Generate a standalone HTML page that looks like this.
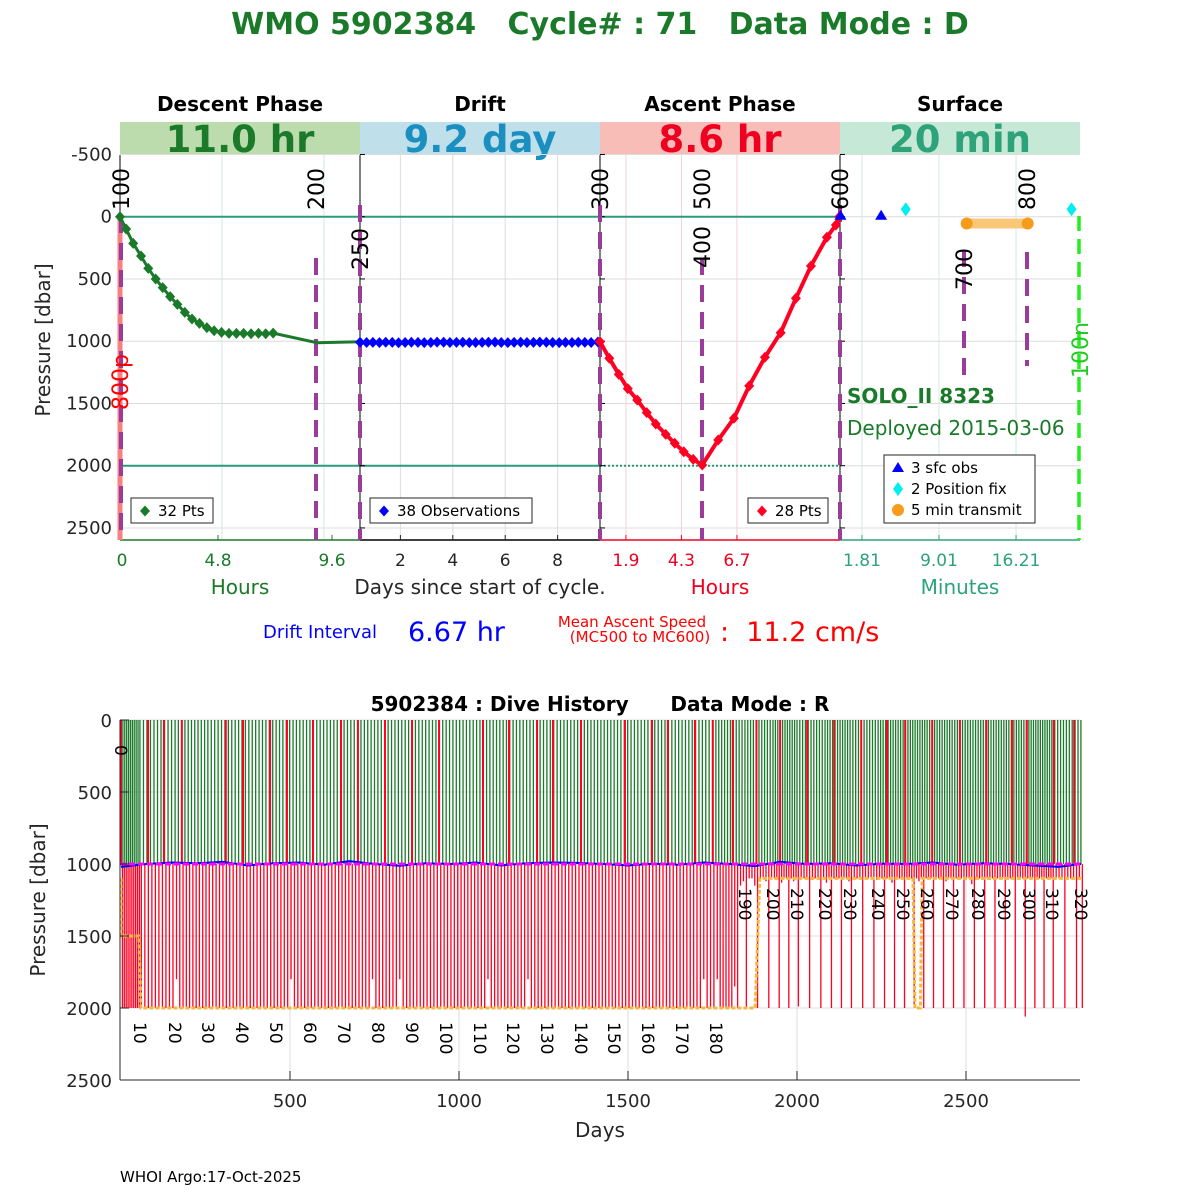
<!DOCTYPE html>
<html><head><meta charset="utf-8"><style>
html,body{margin:0;padding:0;background:#fff;}
svg{display:block;font-family:"DejaVu Sans","Liberation Sans",sans-serif;}
</style></head><body>
<svg id="c" width="1200" height="1200" viewBox="0 0 1200 1200"></svg>
<script>
// ---------- TOP PANEL DATA ----------
const descentHours=[0,0.29,0.62,0.99,1.33,1.68,2.01,2.36,2.70,3.05,3.39,3.74,4.09,4.43,4.78,5.13,5.48,5.82,6.17,6.52,6.86,7.21,9.28,11.3];
const descentPres=[0,99,214,316,415,500,570,642,704,768,822,857,891,916,929,937,937,937,940,937,940,935,1012,1004];
const driftDays=[0.46,0.71,0.95,1.20,1.44,1.69,1.93,2.18,2.42,2.67,2.91,3.16,3.40,3.65,3.89,4.14,4.38,4.63,4.87,5.12,5.36,5.61,5.85,6.10,6.34,6.59,6.83,7.08,7.32,7.57,7.81,8.06,8.30,8.55,8.79,9.04,9.28,9.54];
const driftPres=[1008,1010,1009,1011,1008,1009,1012,1010,1008,1009,1011,1010,1007,1008,1010,1009,1008,1011,1010,1009,1008,1007,1010,1011,1009,1008,1010,1009,1007,1008,1010,1011,1009,1010,1008,1009,1010,1006];
const ascentHours=[0.78,1.18,1.59,1.98,2.39,2.80,3.19,3.62,4.01,4.40,4.81,5.20,5.89,6.57,7.23,7.91,8.59,9.25,9.90,10.59,10.98,11.13];
const ascentPres=[1004,1137,1266,1381,1472,1574,1665,1748,1820,1888,1949,1994,1794,1619,1359,1129,932,655,396,165,67,0];
const sfcObsMin=[-0.2,3.6]; const sfcObsPres=[0,0];
const fixMin=[5.9,21.4]; const fixPres=[-60,-60];
const xmitMin=[11.6,17.3]; const xmitPres=[55,55];
const pTicks=[-500,0,500,1000,1500,2000,2500];
const descTicks=[0,4.8,9.6]; const driftTicks=[2,4,6,8]; const ascTicks=[1.9,4.3,6.7]; const sfcTicks=[1.81,9.01,16.21];
// ---------- BOTTOM PANEL DATA ----------
const labelCycles=[0,10,20,30,40,50,60,70,80,90,100,110,120,130,140,150,160,170,180,190,200,210,220,230,240,250,260,270,280,290,300,310,320];
const labelDays=[0,56,160,257,358,459,559,660,760,861,962,1062,1160,1260,1361,1459,1559,1660,1760,1846,1929,2000,2083,2157,2240,2314,2385,2459,2536,2612,2686,2754,2840];
const profDepth=[
2000,2000,2000,2000,2000,2000,2000,2000,2000,2000,2000,2000,2000,2000,2000,2000,2000,2000,2000,2000,
1800,2000,2000,2000,2000,2000,2000,2000,2000,2000,2000,2000,2000,2000,2000,2000,2000,2000,2000,2000,
2000,2000,2000,2000,2000,2000,2000,2000,2000,2000,2000,2000,2000,2000,1800,2000,2000,2000,2000,2000,
2000,2000,2000,2000,2000,2000,2000,2000,2000,2000,2000,2000,2000,2000,2000,2000,2000,2000,1800,2000,
2000,2000,2000,2000,2000,2000,1800,2000,2000,2000,2000,2000,2000,2000,2000,2000,2000,2000,2000,2000,
2000,2000,2000,2000,2000,2000,2000,2000,2000,2000,2000,2000,1800,2000,2000,2000,2000,2000,2000,2000,
2000,2000,2000,2000,1800,2000,2000,2000,2000,2000,2000,2000,2000,2000,2000,2000,2000,2000,2000,2000,
2000,2000,2000,2000,2000,2000,2000,2000,2000,2000,2000,2000,2000,2000,2000,2000,2000,2000,2000,2000,
2000,2000,2000,2000,2000,2000,2000,2000,2000,2000,2000,2000,2000,2000,2000,2000,1800,2000,2000,2000,
1800,2000,2000,2000,2000,2000,1850,2000,1150,1120,2000,1100,1100,1150,2000,1100,1100,1120,2000,1100,
1100,1100,2000,1130,1100,1100,2000,1100,1120,1100,1990,1100,1100,1100,2000,1110,1100,1100,2000,1100,
1130,1100,2000,1100,1100,1100,2000,1100,1100,1120,2000,1100,1100,1100,2000,1100,1100,1100,2000,1110,
1100,1100,2000,1100,1100,1130,2000,1100,1100,1100,2000,1100,1100,1100,2000,1100,1120,1100,2000,1100,
1100,1100,2000,1100,1100,1100,2000,1120,1100,1100,2000,1100,1100,1100,2000,1100,1100,1140,2000,1100,
1100,1100,2000,1100,1110,1100,2000,1100,1100,1100,2000,1100,1100,1100,2000,1100,1100,1100,2060,1100,
1100,1100,2000,1100,1100,1100,2000,1100,1100,1100,2000,1100,1100,1100,2000,1100,1100,1100,2000,1100,
2000];
const fullRedDays=[0,80,127,180,310,361,441,491,568,651,701,781,861,941,1071,1148,1231,1278,1361,1491,1571,1618,1698,1751,1810,1880,1950,2030,2110,2190,2266,2320,2400,2482,2560,2636,2680,2760,2820];
const histDriftDays=[0,75,150,225,300,375,450,525,600,675,750,825,900,975,1050,1125,1200,1275,1350,1425,1500,1575,1650,1725,1800,1875,1950,2025,2100,2175,2250,2325,2400,2475,2550,2625,2700,2775,2840];
const histDriftPres=[1020,1000,990,995,985,1010,995,990,1005,980,1000,1012,995,1000,990,1010,995,990,992,1000,1010,998,1005,990,1000,1015,985,1000,995,1010,998,1000,990,1005,995,1000,1010,1020,1000];
const orangeDays=[0,0,53,59,1876,1890,2343,2349,2365,2370,2840];
const orangePres=[1100,1500,1500,2000,2000,1100,1100,2000,2000,1100,1100];
const dayTicks=[500,1000,1500,2000,2500]; const histPTicks=[0,500,1000,1500,2000,2500];

// ---------- helpers ----------
const NS="http://www.w3.org/2000/svg"; const svg=document.getElementById('c');
function mk(tag,attrs,parent){const e=document.createElementNS(NS,tag);for(const k in attrs)e.setAttribute(k,attrs[k]);(parent||svg).appendChild(e);return e;}
function txt(s,attrs,parent){const e=mk('text',attrs,parent);e.textContent=s;return e;}
const SP='\u00a0';
const yT=p=>216.7+0.1245*p;
const xDesc=h=>120+21.24*h;
const xDrift=d=>348+26.2*d;
const xAsc=h=>582+23.125*h;
const xSfc=m=>842.6+10.7*m;
const xB=d=>121+0.338*d;
const yB=p=>720+0.144*p;
function dia(x,y,fill,parent){return mk('path',{d:`M${x},${y-5.5}L${x+5},${y}L${x},${y+5.5}L${x-5},${y}Z`,fill:fill},parent);}

// ---------- title ----------
let t=txt('WMO 5902384'+SP+SP+SP+'Cycle# : 71'+SP+SP+SP+'Data Mode : D',{x:600,y:34,'text-anchor':'middle','font-size':30,'font-weight':'bold',fill:'#1a7a2a'});


// ---------- phase banners ----------
const phases=[['Descent Phase','11.0 hr','#bcdcae','#1a7a2a',120],['Drift','9.2 day','#bfe0ea','#1a8fc0',360],['Ascent Phase','8.6 hr','#f9bdb8','#f00020',600],['Surface','20 min','#c6e8d6','#2ea37a',840]];
phases.forEach((p,i)=>{
 const g=mk('g',{});
 
 
 mk('rect',{x:p[4],y:122,width:240,height:33,fill:p[2]},g);
 txt(p[0],{x:p[4]+120,y:111,'text-anchor':'middle','font-size':20,'font-weight':'bold',fill:'#000'},g);
 txt(p[1],{x:p[4]+120,y:152,'text-anchor':'middle','font-size':37,'font-weight':'bold',fill:p[3]},g);
});

// ---------- top grids ----------
const grid=mk('g',{});
pTicks.forEach(p=>{mk('line',{x1:120,x2:1080,y1:yT(p),y2:yT(p),stroke:'#dcdcdc','stroke-width':1},grid);});
[[descTicks.slice(1),xDesc,'#d6e8dc'],[driftTicks,xDrift,'#dcdcdc'],[ascTicks,xAsc,'#f6d0d4'],[sfcTicks,xSfc,'#d6e8e0']].forEach(s=>{
 s[0].forEach(v=>mk('line',{x1:s[1](v),x2:s[1](v),y1:155,y2:540,stroke:s[2],'stroke-width':1},grid));});
mk('line',{x1:120,x2:840,y1:yT(0),y2:yT(0),stroke:'#2a9a7a','stroke-width':2},grid);
mk('line',{x1:120,x2:600,y1:yT(2000),y2:yT(2000),stroke:'#2a9a7a','stroke-width':2},grid);
mk('line',{x1:600,x2:840,y1:yT(2000),y2:yT(2000),stroke:'#2a9a7a','stroke-width':2,'stroke-dasharray':'2,2'},grid);

const ax=mk('g',{});
[360,600,840].forEach(x=>mk('line',{x1:x,x2:x,y1:155,y2:540,stroke:'#000','stroke-width':1},ax));
mk('line',{x1:120,x2:120,y1:155,y2:540,stroke:'#000','stroke-width':1},ax);
mk('line',{x1:120,x2:360,y1:540,y2:540,stroke:'#1a7a2a','stroke-width':1.5},ax);
mk('line',{x1:360,x2:600,y1:540,y2:540,stroke:'#000','stroke-width':1.5},ax);
mk('line',{x1:600,x2:840,y1:540,y2:540,stroke:'#f00020','stroke-width':1.5},ax);
mk('line',{x1:840,x2:1080,y1:540,y2:540,stroke:'#2ea37a','stroke-width':1.5},ax);
pTicks.forEach(p=>{
 txt(String(p),{x:112,y:yT(p)+6,'text-anchor':'end','font-size':18,fill:'#262626'},ax);
 [360,600,840].forEach(x=>mk('line',{x1:x,x2:x+5,y1:yT(p),y2:yT(p),stroke:'#000'},ax));
});
t=txt('Pressure [dbar]',{x:0,y:0,'font-size':20,fill:'#262626','text-anchor':'middle',transform:'translate(50,340) rotate(-90)'});

[[descTicks,xDesc,'#1a7a2a'],[driftTicks,xDrift,'#262626'],[ascTicks,xAsc,'#f00020'],[sfcTicks,xSfc,'#2ea37a']].forEach(s=>{
 s[0].forEach(v=>{const x=(s[1]===xDesc)?[122,218,332][s[0].indexOf(v)]:s[1](v);
  txt(String(v),{x:x,y:566,'text-anchor':'middle','font-size':17,fill:s[2]},ax);
  mk('line',{x1:x,x2:x,y1:535,y2:540,stroke:s[2]},ax);});});
[['Hours',240,'#1a7a2a'],['Days since start of cycle.',480,'#262626'],['Hours',720,'#f00020'],['Minutes',960,'#2ea37a']].forEach(a=>{
 txt(a[0],{x:a[1],y:594,'text-anchor':'middle','font-size':20,fill:a[2]},ax);});

mk('line',{x1:120,x2:120,y1:216,y2:540,stroke:'#f88080','stroke-width':5});
const marks=[[121,216,540],[316,258,540],[360,205,540],[600,205,540],[702,258,540],[840,205,540],[964,250,380],[1027,252,366]];
marks.forEach(m=>{const l=mk('line',{x1:m[0],x2:m[0],y1:m[1],y2:m[2],stroke:'#9b3c9b','stroke-width':4,'stroke-dasharray':'17,10'});
 });
mk('line',{x1:1079,x2:1079,y1:216,y2:540,stroke:'#22ee22','stroke-width':3.5,'stroke-dasharray':'15,8'});
[['100',121,210,'#000'],['200',316,210,'#000'],['250',360,270,'#000'],['300',600,210,'#000'],['500',702,210,'#000'],['400',702,268,'#000'],['600',840,210,'#000'],['700',964,290,'#000'],['800',1027,210,'#000'],['800p',120,410,'#f00'],['100n',1080,378,'#22cc22']].forEach(r=>{
 txt(r[0],{x:0,y:0,'font-size':22,fill:r[3],transform:'translate('+(r[1]+8)+','+r[2]+') rotate(-90)'});});

const dg=mk('g',{});
mk('polyline',{points:descentHours.map((h,i)=>xDesc(h)+','+yT(descentPres[i])).join(' '),fill:'none',stroke:'#1a7a2a','stroke-width':3},dg);
descentHours.forEach((h,i)=>{if(i<22){const d=dia(xDesc(h),yT(descentPres[i]),'#1a7a2a',dg);
 }});
const drg=mk('g',{});
mk('polyline',{points:driftDays.map((d,i)=>xDrift(d)+','+yT(driftPres[i])).join(' '),fill:'none',stroke:'#0000ff','stroke-width':2},drg);
driftDays.forEach((d,i)=>{const p=dia(xDrift(d),yT(driftPres[i]),'#0000ff',drg);
 });
const ag=mk('g',{});
mk('polyline',{points:ascentHours.map((h,i)=>xAsc(h)+','+yT(ascentPres[i])).join(' '),fill:'none',stroke:'#ff0022','stroke-width':4},ag);
ascentHours.forEach((h,i)=>{const p=dia(xAsc(h),yT(ascentPres[i]),'#ff0022',ag);
 });
const sg=mk('g',{});
sfcObsMin.forEach((m,i)=>{const x=xSfc(m),y=yT(sfcObsPres[i]);const p=mk('path',{d:`M${x},${y-7}L${x+6},${y+3}L${x-6},${y+3}Z`,fill:'#0000ff'},sg);
 });
fixMin.forEach((m,i)=>{const x=xSfc(m),y=yT(fixPres[i]);const p=mk('path',{d:`M${x},${y-7}L${x+5},${y}L${x},${y+7}L${x-5},${y}Z`,fill:'#00eeee'},sg);
 });
mk('line',{x1:xSfc(xmitMin[0]),x2:xSfc(xmitMin[1]),y1:yT(xmitPres[0]),y2:yT(xmitPres[1]),stroke:'#f8c878','stroke-width':10},sg);
xmitMin.forEach((m,i)=>{const c=mk('circle',{cx:xSfc(m),cy:yT(xmitPres[i]),r:6,fill:'#f89a1a'},sg);
 });

function legend(x,y,w,h,items,name){const g=mk('g',{});
 mk('rect',{x:x,y:y,width:w,height:h,fill:'#fff',stroke:'#262626','stroke-width':1},g);
 items.forEach((it,i)=>{const cy=y+13+i*21;const mx=x+14;
  if(it[1]==='d')dia(mx,cy,it[2],g);
  if(it[1]==='D')mk('path',{d:`M${mx},${cy-7}L${mx+5},${cy}L${mx},${cy+7}L${mx-5},${cy}Z`,fill:it[2]},g);
  if(it[1]==='t')mk('path',{d:`M${mx},${cy-6}L${mx+6},${cy+4}L${mx-6},${cy+4}Z`,fill:it[2]},g);
  if(it[1]==='c')mk('circle',{cx:mx,cy:cy,r:6,fill:it[2]},g);
  txt(it[0],{x:x+27,y:cy+5,'font-size':15,fill:'#000'},g);});}
legend(131,498,82,25,[['32 Pts','d','#1a7a2a']],'descent-legend');
legend(370,498,162,25,[['38 Observations','d','#0000ff']],'drift-legend');
legend(748,498,80,25,[['28 Pts','d','#ff0022']],'ascent-legend');
legend(884,455,151,68,[['3 sfc obs','t','#0000ff'],['2 Position fix','D','#00eeee'],['5 min transmit','c','#f89a1a']],'surface-legend');
t=txt('SOLO_II 8323',{x:847,y:403,'font-size':20,'font-weight':'bold',fill:'#1a7a2a'});
t=txt('Deployed 2015-03-06',{x:847,y:435,'font-size':20,fill:'#1a7a2a'});

txt('Drift Interval',{x:263,y:638,'font-size':18,fill:'#0000ff'});
txt('6.67 hr',{x:408,y:641,'font-size':27,fill:'#0000ff'});
txt('Mean Ascent Speed',{x:632,y:627,'text-anchor':'middle','font-size':15,fill:'#f00'});
txt('(MC500 to MC600)',{x:640,y:642,'text-anchor':'middle','font-size':15,fill:'#f00'});
txt(':'+SP+SP+'11.2 cm/s',{x:720,y:641,'font-size':27,fill:'#f00'});

// ---------- BOTTOM PANEL ----------
const bg=mk('g',{});
dayTicks.forEach(d=>mk('line',{x1:xB(d),x2:xB(d),y1:720,y2:1080,stroke:'#dcdcdc'},bg));
histPTicks.forEach(p=>mk('line',{x1:120,x2:1080,y1:yB(p),y2:yB(p),stroke:'#dcdcdc'},bg));
function cycDay(c){for(let i=0;i<labelCycles.length-1;i++){if(c<=labelCycles[i+1]){const f=(c-labelCycles[i])/(labelCycles[i+1]-labelCycles[i]);return labelDays[i]+f*(labelDays[i+1]-labelDays[i]);}}return labelDays[labelDays.length-1];}
const cg=mk('g',{},bg);
profDepth.forEach((dp,c)=>{const x=xB(cycDay(c));
 const g=mk('line',{x1:x,x2:x,y1:yB(0),y2:yB(1000),stroke:'#1a7a2a','stroke-width':1.3},cg);
 
 const r=mk('line',{x1:x+1.4,x2:x+1.4,y1:yB(1000),y2:yB(dp),stroke:'#ff0022','stroke-width':1.3},cg);
 });
fullRedDays.forEach(d=>{const l=mk('line',{x1:xB(d),x2:xB(d),y1:yB(0),y2:yB(1000),stroke:'#ff0022','stroke-width':2},cg);
 });
let pl=mk('polyline',{points:histDriftDays.map((d,i)=>xB(d)+','+yB(histDriftPres[i])).join(' '),fill:'none',stroke:'#0000ff','stroke-width':2},bg);

pl=mk('line',{x1:120,x2:1080,y1:yB(1000),y2:yB(1000),stroke:'#ff00ff','stroke-width':3,'stroke-dasharray':'6,3'},bg);

pl=mk('polyline',{points:orangeDays.map((d,i)=>xB(d)+','+yB(orangePres[i])).join(' '),fill:'none',stroke:'#f8b840','stroke-width':3,'stroke-dasharray':'4,2'},bg);

labelCycles.forEach((c,i)=>{const x=xB(labelDays[i]);const y=c===0?745:(c<=180?1022:888);
 const tl=txt(String(c),{x:0,y:0,'font-size':17,fill:'#000',transform:'translate('+(x-6)+','+y+') rotate(90)'},bg);
 });
mk('line',{x1:120,x2:120,y1:720,y2:1080,stroke:'#262626'},bg);
mk('line',{x1:120,x2:1080,y1:1080,y2:1080,stroke:'#262626'},bg);
histPTicks.forEach(p=>{txt(String(p),{x:112,y:yB(p)+7,'text-anchor':'end','font-size':18,fill:'#262626'},bg);mk('line',{x1:120,x2:129,y1:yB(p),y2:yB(p),stroke:'#262626'},bg);});
dayTicks.forEach(d=>{txt(String(d),{x:xB(d),y:1107,'text-anchor':'middle','font-size':18,fill:'#262626'},bg);mk('line',{x1:xB(d),x2:xB(d),y1:1071,y2:1080,stroke:'#262626'},bg);});
t=txt('Days',{x:600,y:1137,'text-anchor':'middle','font-size':20,fill:'#262626'});
t=txt('Pressure [dbar]',{x:0,y:0,'font-size':20,fill:'#262626','text-anchor':'middle',transform:'translate(45,900) rotate(-90)'});
t=txt('5902384 : Dive History'+SP+SP+SP+SP+SP+SP+'Data Mode : R',{x:600,y:711,'text-anchor':'middle','font-size':20,'font-weight':'bold',fill:'#000'});
t=txt('WHOI Argo:17-Oct-2025',{x:120,y:1182,'font-size':15,fill:'#000'});
</script>
</body></html>
